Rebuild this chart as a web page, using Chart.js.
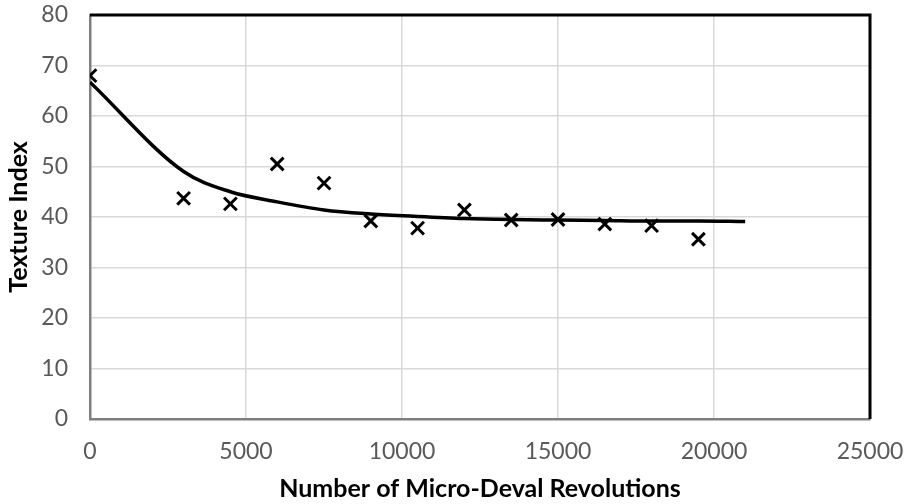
<!DOCTYPE html>
<html>
<head>
<meta charset="utf-8">
<script src="https://cdn.jsdelivr.net/npm/chart.js@4.4.1/dist/chart.umd.min.js"></script>
<style>
  html, body { margin: 0; padding: 0; background: #fff; }
  #wrap { width: 904px; height: 504px; }
</style>
</head>
<body>
<div id="wrap"><canvas id="textureChart" width="904" height="504"></canvas></div>
<script>
// measured points (Micro-Deval revolutions vs texture index)
const revolutions = [0, 3000, 4500, 6000, 7500, 9000, 10500, 12000, 13500, 15000, 16500, 18000, 19500];
const textureIndex = [68.0, 43.7, 42.6, 50.5, 46.7, 39.2, 37.8, 41.4, 39.4, 39.5, 38.6, 38.3, 35.6];

// fitted curve
const fitRevolutions = [0, 3000, 4500, 6000, 7500, 9000, 10500, 12000, 13500, 15000, 16500, 18000, 19500, 21000];
const fitIndex = [66.7, 49.0, 45.0, 43.0, 41.4, 40.6, 40.1, 39.7, 39.5, 39.4, 39.3, 39.2, 39.2, 39.1];

const xTicks = [0, 5000, 10000, 15000, 20000, 25000];
const yTicks = [0, 10, 20, 30, 40, 50, 60, 70, 80];

const toPoints = (xs, ys) => xs.map((x, i) => ({ x: x, y: ys[i] }));

// top and right edges of the plot area are black
const frame = {
  id: "frame",
  afterDatasetsDraw(chart) {
    const { ctx, chartArea } = chart;
    ctx.save();
    ctx.strokeStyle = "#000";
    ctx.lineWidth = 3;
    ctx.beginPath();
    ctx.moveTo(chartArea.left, chartArea.top);
    ctx.lineTo(chartArea.right, chartArea.top);
    ctx.lineTo(chartArea.right, chartArea.bottom);
    ctx.stroke();
    ctx.restore();
  },
};

const chart = document.getElementById("textureChart");
const data = {
  datasets: [
    {
      type: "scatter",
      label: "Measured",
      data: toPoints(revolutions, textureIndex),
      pointStyle: "crossRot",
      pointRadius: 9,
      pointBorderWidth: 3,
      borderColor: "#000",
      backgroundColor: "#000",
      showLine: false,
      order: 1,
    },
    {
      type: "line",
      label: "Fit",
      data: toPoints(fitRevolutions, fitIndex),
      borderColor: "#000",
      borderWidth: 3.5,
      pointRadius: 0,
      cubicInterpolationMode: "monotone",
      fill: false,
      order: 2,
    },
  ],
};

const tickFont = { family: "Lato", size: 23 };
const titleFont = { family: "Lato", size: 25, weight: "bold" };

const config = {
  type: "scatter",
  data: data,
  options: {
    responsive: false,
    animation: false,
    layout: { padding: { left: 0, right: 34, top: 15, bottom: 0 } },
    plugins: {
      legend: { display: false },
      tooltip: { enabled: false },
    },
    scales: {
      x: {
        type: "linear",
        min: 0,
        max: 25000,
        afterBuildTicks: (axis) => { axis.ticks = xTicks.map((v) => ({ value: v })); },
        afterFit: (axis) => {
          axis.height = 85;
          axis.paddingLeft = 0;
          axis.paddingRight = 0;
        },
        ticks: { color: "#595959", font: tickFont, padding: 19, maxRotation: 0, callback: (v) => String(v) },
        grid: { color: "#d9d9d9", lineWidth: 1.5, drawTicks: false },
        border: { color: "#7f7f7f", width: 2.5 },
        title: { display: true, text: "Number of Micro-Deval Revolutions", color: "#000", font: titleFont, padding: { top: 12, bottom: 0 } },
      },
      y: {
        min: 0,
        max: 80,
        afterBuildTicks: (axis) => { axis.ticks = yTicks.map((v) => ({ value: v })); },
        afterFit: (axis) => {
          axis.width = 90;
          axis.paddingTop = 0;
          axis.paddingBottom = 0;
        },
        ticks: { color: "#595959", font: tickFont, padding: 22 },
        grid: { color: "#d9d9d9", lineWidth: 1.5, drawTicks: false },
        border: { color: "#7f7f7f", width: 2.5 },
        title: { display: true, text: "Texture Index", color: "#000", font: titleFont, padding: { top: 4, bottom: 6 } },
      },
    },
  },
  plugins: [frame],
};

new Chart(chart, config);
</script>
</body>
</html>
